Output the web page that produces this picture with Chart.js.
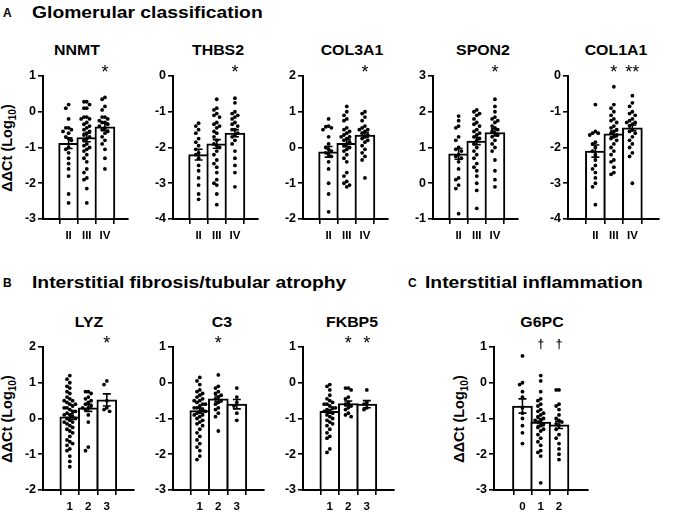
<!DOCTYPE html>
<html>
<head>
<meta charset="utf-8">
<script src="https://cdn.jsdelivr.net/npm/chart.js@4.4.1/dist/chart.umd.min.js"></script>
<style>
  body { margin: 0; background: #fff; font-family: "Liberation Sans", Arial, sans-serif; color: #000; }
  #page { position: relative; width: 680px; height: 513px; overflow: hidden; }
  .box { position: absolute; }
  .letter { position: absolute; font-weight: bold; font-size: 12px; line-height: 1; }
  .head { position: absolute; font-weight: bold; font-size: 16.5px; line-height: 1; white-space: nowrap; transform-origin: 0 50%; transform: scaleX(1.17); }
  .gene { position: absolute; font-weight: bold; font-size: 15px; line-height: 1; white-space: nowrap; transform: translate(-50%, -50%) scaleX(1.06); }
  .ytitle { position: absolute; font-weight: bold; font-size: 14.5px; line-height: 1; white-space: nowrap; transform: translate(-50%, -50%) rotate(-90deg); }
  .ytitle sub { font-size: 10px; }
</style>
</head>
<body>
<div id="page">
  <div class="letter" style="left:3px; top:7px;">A</div>
  <div class="head" style="left:32px; top:4px;">Glomerular classification</div>
  <div class="letter" style="left:3px; top:277px;">B</div>
  <div class="head" style="left:32px; top:274px;">Interstitial fibrosis/tubular atrophy</div>
  <div class="letter" style="left:408px; top:277px;">C</div>
  <div class="head" style="left:425px; top:274px;">Interstitial inflammation</div>

  <div class="ytitle" style="left:9px; top:148px;">ΔΔCt (Log<sub>10</sub>)</div>
  <div class="ytitle" style="left:9px; top:419px;">ΔΔCt (Log<sub>10</sub>)</div>
  <div class="ytitle" style="left:461px; top:419px;">ΔΔCt (Log<sub>10</sub>)</div>
</div>

<script>
// -> Kategorien
const glomCats = ["II", "III", "IV"];
const ifCats = ["1", "2", "3"];
const inflCats = ["0", "1", "2"];

// -> NNMT
const nnmtRange = [-3, 1];
const nnmtMeans = [-0.88, -0.72, -0.42];
const nnmtSem = [0.15, 0.12, 0.10];
const nnmtMarks = ["", "", "*"];
const nnmtDots = [
  [0.2, 0.1, -0.2, -0.45, -0.45, -0.5, -0.55, -0.6, -0.7, -0.75, -0.8, -1.0, -1.05, -1.15, -1.3, -1.45, -1.6, -1.8, -2.3, -2.55],
  [0.28, 0.28, 0.2, 0.1, 0.1, -0.15, -0.15, -0.2, -0.2, -0.3, -0.35, -0.4, -0.45, -0.5, -0.55, -0.6, -0.65, -0.7, -0.75, -0.8, -0.9, -0.95, -1.0, -1.05, -1.1, -1.2, -1.3, -1.4, -1.6, -1.7, -1.85, -1.9, -2.15, -2.55],
  [0.4, 0.35, 0.15, 0.05, -0.15, -0.15, -0.2, -0.25, -0.3, -0.3, -0.35, -0.4, -0.45, -0.5, -0.55, -0.6, -0.7, -0.8, -0.9, -1.05, -1.3, -1.6]
];

// -> THBS2
const thbs2Range = [-4, 0];
const thbs2Means = [-2.2, -1.9, -1.6];
const thbs2Sem = [0.15, 0.12, 0.10];
const thbs2Marks = ["", "", "*"];
const thbs2Dots = [
  [-1.32, -1.4, -1.5, -1.6, -1.75, -1.85, -1.95, -2.05, -2.15, -2.2, -2.3, -2.5, -2.65, -2.85, -3.05, -3.3, -3.45],
  [-0.65, -0.9, -0.95, -1.05, -1.1, -1.15, -1.3, -1.35, -1.4, -1.45, -1.55, -1.6, -1.7, -1.8, -1.9, -1.95, -2.0, -2.1, -2.2, -2.35, -2.45, -2.55, -2.7, -2.9, -3.0, -3.05, -3.3, -3.6],
  [-0.62, -0.75, -1.0, -1.05, -1.1, -1.15, -1.2, -1.3, -1.35, -1.4, -1.5, -1.5, -1.6, -1.65, -1.7, -1.8, -1.9, -2.1, -2.3, -2.5, -2.7, -3.1]
];

// -> COL3A1
const col3a1Range = [-2, 2];
const col3a1Means = [-0.12, 0.12, 0.35];
const col3a1Sem = [0.15, 0.10, 0.07];
const col3a1Marks = ["", "", "*"];
const col3a1Dots = [
  [0.8, 0.6, 0.58, 0.55, 0.5, 0.3, 0.1, 0.0, -0.05, -0.1, -0.15, -0.2, -0.25, -0.4, -0.6, -1.0, -1.3, -1.8],
  [1.15, 1.0, 0.9, 0.8, 0.75, 0.55, 0.5, 0.45, 0.4, 0.35, 0.3, 0.3, 0.25, 0.2, 0.15, 0.1, 0.05, 0.0, -0.05, -0.1, -0.2, -0.3, -0.4, -0.7, -0.8, -0.95, -1.0, -1.05, -1.1],
  [1.0, 0.95, 0.85, 0.75, 0.6, 0.55, 0.5, 0.5, 0.45, 0.4, 0.35, 0.3, 0.25, 0.2, 0.15, 0.05, -0.05, -0.15, -0.25, -0.35, -0.85]
];

// -> SPON2
const spon2Range = [-1, 3];
const spon2Means = [0.82, 1.18, 1.42];
const spon2Sem = [0.15, 0.10, 0.10];
const spon2Marks = ["", "", "*"];
const spon2Dots = [
  [1.88, 1.75, 1.6, 1.55, 1.3, 1.2, 1.0, 0.95, 0.9, 0.8, 0.75, 0.7, 0.6, 0.4, 0.15, 0.1, -0.05, -0.15, -0.85],
  [2.05, 2.0, 1.95, 1.9, 1.8, 1.7, 1.65, 1.6, 1.5, 1.45, 1.4, 1.35, 1.3, 1.25, 1.2, 1.1, 1.0, 0.9, 0.8, 0.7, 0.55, 0.45, 0.35, 0.2, 0.0, -0.2, -0.7],
  [2.35, 2.15, 2.0, 1.85, 1.8, 1.75, 1.7, 1.6, 1.55, 1.5, 1.45, 1.4, 1.35, 1.3, 1.2, 1.1, 1.0, 0.9, 0.65, 0.35, 0.1, -0.1]
];

// -> COL1A1
const col1a1Range = [-4, 0];
const col1a1Means = [-2.1, -1.62, -1.45];
const col1a1Sem = [0.17, 0.08, 0.08];
const col1a1Marks = ["", "*", "**"];
const col1a1Dots = [
  [-0.8, -1.55, -1.6, -1.6, -1.65, -1.85, -1.9, -2.0, -2.1, -2.2, -2.35, -2.5, -2.6, -2.7, -2.85, -3.0, -3.1, -3.6],
  [-0.3, -0.8, -0.9, -1.0, -1.1, -1.2, -1.25, -1.3, -1.4, -1.45, -1.5, -1.55, -1.6, -1.65, -1.7, -1.75, -1.8, -1.9, -2.0, -2.1, -2.2, -2.35, -2.4, -2.55, -2.7, -2.75],
  [-0.55, -0.75, -0.85, -1.0, -1.05, -1.1, -1.2, -1.25, -1.3, -1.3, -1.35, -1.4, -1.5, -1.55, -1.6, -1.7, -1.8, -1.9, -2.0, -2.15, -2.25, -3.0]
];

// -> LYZ
const lyzRange = [-2, 2];
const lyzMeans = [0.05, 0.3, 0.52];
const lyzSem = [0.08, 0.10, 0.17];
const lyzMarks = ["", "", "*"];
const lyzDots = [
  [1.2, 1.1, 1.0, 0.9, 0.85, 0.75, 0.7, 0.6, 0.55, 0.5, 0.5, 0.45, 0.4, 0.4, 0.35, 0.3, 0.3, 0.25, 0.2, 0.2, 0.15, 0.1, 0.1, 0.05, 0.0, 0.0, -0.05, -0.1, -0.1, -0.15, -0.2, -0.25, -0.3, -0.35, -0.4, -0.5, -0.6, -0.65, -0.7, -0.75, -0.85, -0.9, -1.05, -1.2, -1.35],
  [0.75, 0.75, 0.7, 0.6, 0.55, 0.5, 0.45, 0.4, 0.35, 0.3, 0.3, 0.25, 0.1, -0.1, -0.8, -0.9],
  [1.05, 0.95, 0.5, 0.3, 0.25, 0.2]
];

// -> C3
const c3Range = [-3, 1];
const c3Means = [-0.78, -0.45, -0.6];
const c3Sem = [0.07, 0.08, 0.13];
const c3Marks = ["", "*", ""];
const c3Dots = [
  [0.15, 0.05, -0.05, -0.2, -0.25, -0.3, -0.35, -0.4, -0.45, -0.5, -0.5, -0.55, -0.6, -0.6, -0.65, -0.7, -0.7, -0.75, -0.8, -0.8, -0.85, -0.9, -0.9, -0.95, -1.0, -1.05, -1.1, -1.15, -1.2, -1.3, -1.4, -1.5, -1.6, -1.7, -1.8, -1.9, -2.05, -2.15],
  [0.22, -0.1, -0.15, -0.25, -0.3, -0.35, -0.4, -0.45, -0.5, -0.55, -0.6, -0.7, -0.75, -0.85, -0.95, -1.35],
  [-0.15, -0.4, -0.55, -0.65, -0.85, -1.05]
];

// -> FKBP5
const fkbp5Range = [-3, 1];
const fkbp5Means = [-0.8, -0.58, -0.6];
const fkbp5Sem = [0.05, 0.07, 0.10];
const fkbp5Marks = ["", "*", "*"];
const fkbp5Dots = [
  [-0.05, -0.1, -0.2, -0.35, -0.45, -0.5, -0.55, -0.6, -0.6, -0.65, -0.7, -0.7, -0.75, -0.8, -0.8, -0.85, -0.9, -0.95, -1.0, -1.05, -1.1, -1.15, -1.2, -1.3, -1.4, -1.5, -1.55, -1.85, -1.95],
  [-0.15, -0.15, -0.2, -0.4, -0.45, -0.55, -0.6, -0.65, -0.7, -0.75, -0.85, -0.9, -0.95],
  [-0.2, -0.55, -0.6, -0.7, -0.75]
];

// -> G6PC
const g6pcRange = [-3, 1];
const g6pcMeans = [-0.65, -1.1, -1.18];
const g6pcSem = [0.2, 0.1, 0.1];
const g6pcMarks = ["", "†", "†"];
const g6pcDots = [
  [0.75, 0.0, -0.05, -0.25, -0.4, -0.7, -0.85, -1.0, -1.2, -1.4, -1.7],
  [0.2, 0.05, -0.25, -0.45, -0.5, -0.6, -0.65, -0.75, -0.8, -0.85, -0.9, -0.95, -1.0, -1.05, -1.05, -1.1, -1.15, -1.2, -1.25, -1.3, -1.35, -1.45, -1.55, -1.65, -1.75, -1.9, -1.95, -2.05, -2.8],
  [-0.2, -0.2, -0.6, -0.65, -0.75, -0.9, -1.0, -1.05, -1.1, -1.15, -1.2, -1.3, -1.45, -1.55, -1.7, -1.85, -2.0, -2.15]
];

// -> Layout (Pixel)
const Y_AXIS_W = 32;
const X_AXIS_H = 26;
const PAD_TOP = 24;
const PLOT_H = 143;

const panels = [
  { name: "NNMT", cats: glomCats, range: nnmtRange, means: nnmtMeans, sem: nnmtSem, marks: nnmtMarks, dots: nnmtDots, axisX: 43, top: 76, w: 89, xr: [-0.63, 2.49], titleX: 77, titleY: 49 },
  { name: "THBS2", cats: glomCats, range: thbs2Range, means: thbs2Means, sem: thbs2Sem, marks: thbs2Marks, dots: thbs2Dots, axisX: 173, top: 76, w: 89, xr: [-0.63, 2.49], titleX: 218, titleY: 49 },
  { name: "COL3A1", cats: glomCats, range: col3a1Range, means: col3a1Means, sem: col3a1Sem, marks: col3a1Marks, dots: col3a1Dots, axisX: 303, top: 76, w: 89, xr: [-0.63, 2.49], titleX: 352, titleY: 49 },
  { name: "SPON2", cats: glomCats, range: spon2Range, means: spon2Means, sem: spon2Sem, marks: spon2Marks, dots: spon2Dots, axisX: 433, top: 76, w: 89, xr: [-0.63, 2.49], titleX: 483, titleY: 49 },
  { name: "COL1A1", cats: glomCats, range: col1a1Range, means: col1a1Means, sem: col1a1Sem, marks: col1a1Marks, dots: col1a1Dots, axisX: 568, top: 76, w: 95, xr: [-0.66, 2.62], titleX: 616, titleY: 49 },
  { name: "LYZ", cats: ifCats, range: lyzRange, means: lyzMeans, sem: lyzSem, marks: lyzMarks, dots: lyzDots, axisX: 43, top: 347, w: 95, xr: [-0.63, 2.65], titleX: 89, titleY: 321 },
  { name: "C3", cats: ifCats, range: c3Range, means: c3Means, sem: c3Sem, marks: c3Marks, dots: c3Dots, axisX: 173, top: 347, w: 95, xr: [-0.63, 2.65], titleX: 222, titleY: 321 },
  { name: "FKBP5", cats: ifCats, range: fkbp5Range, means: fkbp5Means, sem: fkbp5Sem, marks: fkbp5Marks, dots: fkbp5Dots, axisX: 303, top: 347, w: 95, xr: [-0.63, 2.65], titleX: 352, titleY: 321 },
  { name: "G6PC", cats: inflCats, range: g6pcRange, means: g6pcMeans, sem: g6pcSem, marks: g6pcMarks, dots: g6pcDots, axisX: 494, top: 347, w: 98, xr: [-0.7, 2.73], titleX: 542, titleY: 321 }
];

Chart.defaults.font.family = "'Liberation Sans', Arial, sans-serif";
Chart.defaults.font.weight = "bold";
Chart.defaults.color = "#000";

// -> Punkte nebeneinander legen (Beeswarm, keine Zufallswerte)
function swarm(values, center, dy, step) {
  const placed = [];
  const sorted = values.slice().sort((a, b) => b - a);
  const offsets = [0, -1, 1, -2, 2];
  return sorted.map((v) => {
    let pos = null;
    for (const o of offsets) {
      const x = center + o * step;
      const hit = placed.some((p) => Math.abs(p.x - x) < step * 0.9 && Math.abs(p.y - v) < dy);
      if (!hit) { pos = { x: x, y: v }; break; }
    }
    if (!pos) pos = { x: center + offsets[placed.length % offsets.length] * step * 0.5, y: v };
    placed.push(pos);
    return pos;
  });
}

function makePanel(p) {
  const page = document.querySelector("#page");

  const title = document.createElement("div");
  title.className = "gene";
  title.style.left = p.titleX + "px";
  title.style.top = p.titleY + "px";
  title.textContent = p.name;
  page.appendChild(title);

  const cw = Y_AXIS_W + p.w;
  const ch = PAD_TOP + PLOT_H + X_AXIS_H;
  const box = document.createElement("div");
  box.className = "box";
  box.style.left = (p.axisX - Y_AXIS_W) + "px";
  box.style.top = (p.top - PAD_TOP) + "px";
  box.style.width = cw + "px";
  box.style.height = ch + "px";
  const canvas = document.createElement("canvas");
  canvas.width = cw;
  canvas.height = ch;
  box.appendChild(canvas);
  page.appendChild(box);

  const pxPerX = p.w / (p.xr[1] - p.xr[0]);
  const pxPerY = PLOT_H / (p.range[1] - p.range[0]);
  let dotData = [];
  p.dots.forEach((vals, i) => {
    dotData = dotData.concat(swarm(vals, i, 4.2 / pxPerY, 4.4 / pxPerX));
  });

  // -> Fehlerbalken und Sternchen
  const extras = {
    id: "extras",
    afterDatasetsDraw(chart) {
      const ctx = chart.ctx;
      const xs = chart.scales.x;
      const ys = chart.scales.y;
      ctx.save();
      ctx.strokeStyle = "#000";
      ctx.lineWidth = 1.6;
      p.means.forEach((m, i) => {
        const x = xs.getPixelForValue(i);
        const y1 = ys.getPixelForValue(m + p.sem[i]);
        const y2 = ys.getPixelForValue(m - p.sem[i]);
        ctx.beginPath();
        ctx.moveTo(x, y1); ctx.lineTo(x, y2);
        ctx.moveTo(x - 4, y1); ctx.lineTo(x + 4, y1);
        ctx.moveTo(x - 4, y2); ctx.lineTo(x + 4, y2);
        ctx.stroke();
      });
      ctx.fillStyle = "#000";
      ctx.textAlign = "center";
      ctx.textBaseline = "alphabetic";
      p.marks.forEach((mk, i) => {
        if (!mk) return;
        const x = xs.getPixelForValue(i);
        if (mk === "†") {
          ctx.font = "bold 12px 'Liberation Sans', Arial, sans-serif";
          ctx.fillText(mk, x, chart.chartArea.top + 1);
        } else {
          ctx.font = "18px 'Liberation Sans', Arial, sans-serif";
          ctx.fillText(mk, x, chart.chartArea.top + 2);
        }
      });
      ctx.restore();
    }
  };

  new Chart(canvas, {
    type: "bar",
    data: {
      datasets: [
        {
          type: "scatter",
          data: dotData,
          pointRadius: 1.9,
          pointBackgroundColor: "#000",
          pointBorderWidth: 0,
          order: 1
        },
        {
          type: "bar",
          data: p.means.map((m, i) => ({ x: i, y: m })),
          base: p.range[0],
          backgroundColor: "#fff",
          borderColor: "#000",
          borderWidth: 2,
          barThickness: 20,
          order: 2
        }
      ]
    },
    options: {
      responsive: false,
      animation: false,
      layout: { padding: { top: PAD_TOP, left: 0, right: 0, bottom: 0 } },
      plugins: {
        legend: { display: false },
        tooltip: { enabled: false }
      },
      scales: {
        x: {
          type: "linear",
          min: p.xr[0],
          max: p.xr[1],
          afterBuildTicks: (s) => { s.ticks = p.cats.map((c, i) => ({ value: i })); },
          afterFit: (s) => { s.height = X_AXIS_H; },
          ticks: {
            callback: (v) => p.cats[v],
            font: { size: 11.5, weight: "bold" },
            color: "#000",
            padding: 5,
            maxRotation: 0,
            autoSkip: false
          },
          grid: { drawOnChartArea: false, tickLength: 5, color: "#000", lineWidth: 1.6 },
          border: { color: "#000", width: 2 }
        },
        y: {
          min: p.range[0],
          max: p.range[1],
          afterFit: (s) => { s.width = Y_AXIS_W; },
          ticks: {
            stepSize: 1,
            font: { size: 12.5, weight: "bold" },
            color: "#000",
            padding: 2
          },
          grid: { drawOnChartArea: false, tickLength: 5, color: "#000", lineWidth: 1.6 },
          border: { color: "#000", width: 2 }
        }
      }
    },
    plugins: [extras]
  });
}

panels.forEach(makePanel);
</script>
</body>
</html>
